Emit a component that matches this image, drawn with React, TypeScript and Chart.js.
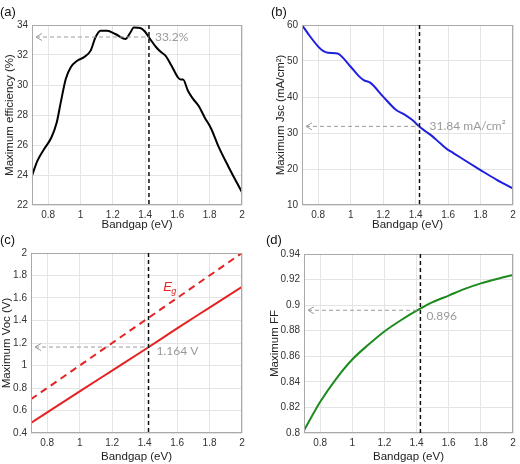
import React, { useEffect, useRef } from "react";
import { Chart, registerables } from "chart.js";

Chart.register(...registerables);

// ---------- data ----------
const BANDGAP_TICKS = [0.8, 1, 1.2, 1.4, 1.6, 1.8, 2];
const MARKED_GAP = 1.424;

const EFF_X = [0.70, 0.734, 0.775, 0.82, 0.853, 0.878, 0.909, 0.94, 0.98, 1.02, 1.063, 1.093, 1.124, 1.165, 1.216, 1.278, 1.309, 1.33, 1.37, 1.40, 1.429, 1.47, 1.50, 1.526, 1.563, 1.604, 1.62, 1.635, 1.666, 1.697, 1.732, 1.769, 1.81, 1.852, 1.913, 2.00];
const EFF_Y = [23.96, 24.96, 25.73, 26.5, 27.5, 28.84, 30.4, 31.18, 31.62, 31.84, 32.29, 33.18, 33.62, 33.62, 33.4, 33.07, 33.5, 33.84, 33.8, 33.55, 33.1, 32.5, 32.18, 31.96, 31.3, 30.5, 30.36, 30.36, 29.6, 29.07, 28.6, 27.84, 27.07, 25.96, 24.62, 22.84];
const EFF_TICKS = [22, 24, 26, 28, 30, 32, 34];
const EFF_MARK = 33.2;

const JSC_X = [0.70, 0.75, 0.80, 0.83, 0.86, 0.92, 0.95, 1.00, 1.05, 1.08, 1.12, 1.20, 1.28, 1.33, 1.38, 1.42, 1.46, 1.50, 1.55, 1.60, 1.63, 1.70, 1.80, 1.90, 2.00];
const JSC_Y = [60.0, 56.8, 54.0, 52.8, 52.3, 52.1, 51.0, 48.4, 45.8, 44.7, 44.0, 40.1, 36.4, 35.2, 33.6, 31.9, 30.5, 29.2, 27.2, 25.3, 24.5, 22.5, 19.7, 17.0, 14.6];
const JSC_TICKS = [10, 20, 30, 40, 50, 60];
const JSC_MARK = 31.84;

const VOC_X = [0.7, 1.0, 1.2, 1.4, 1.6, 1.8, 2.0];
const VOC_Y = [0.49, 0.77, 0.955, 1.14, 1.33, 1.515, 1.70];
const EG_Y = [0.7, 1.0, 1.2, 1.4, 1.6, 1.8, 2.0];
const VOC_TICKS = [0.4, 0.6, 0.8, 1, 1.2, 1.4, 1.6, 1.8, 2];
const VOC_MARK = 1.164;

const FF_X = [0.7, 0.8, 0.9, 1.0, 1.1, 1.2, 1.3, 1.42, 1.5, 1.6, 1.7, 1.8, 1.9, 2.0];
const FF_Y = [0.802, 0.8242, 0.8424, 0.8575, 0.869, 0.8794, 0.888, 0.897, 0.9023, 0.9075, 0.9127, 0.917, 0.9205, 0.9236];
const FF_TICKS = [0.8, 0.82, 0.84, 0.86, 0.88, 0.9, 0.92, 0.94];
const FF_MARK = 0.896;

// ---------- panels ----------
type Series = { xs: number[]; ys: number[]; color: string; dash?: number[] };
type Panel = {
  left: number; top: number;
  series: Series[];
  yTicks: number[];
  yTitle: string;
  mark: number; markText: string; textDx: number; textDy: number;
  pad: { left: number; right: number; top: number };
  yW: number; xH: number;
  eg?: boolean;
};

const PANELS: Panel[] = [
  {
    left: 0, top: 0,
    series: [{ xs: EFF_X, ys: EFF_Y, color: "#000000" }],
    yTicks: EFF_TICKS, yTitle: "Maximum efficiency (%)",
    mark: EFF_MARK, markText: "33.2%", textDx: 6, textDy: 0,
    pad: { left: 3, right: 18, top: 25 }, yW: 29, xH: 27,
  },
  {
    left: 260, top: 0,
    series: [{ xs: JSC_X, ys: JSC_Y, color: "#1f1fe0" }],
    yTicks: JSC_TICKS, yTitle: "Maximum Jsc (mA/cm\u00B2)",
    mark: JSC_MARK, markText: "31.84 mA/cm\u00B2", textDx: 10, textDy: 0,
    pad: { left: 14, right: 7, top: 25 }, yW: 28, xH: 27,
  },
  {
    left: 0, top: 232,
    series: [
      { xs: VOC_X, ys: EG_Y, color: "#e52222", dash: [7, 5] },
      { xs: VOC_X, ys: VOC_Y, color: "#e52222" },
    ],
    yTicks: VOC_TICKS, yTitle: "Maximum Voc (V)",
    mark: VOC_MARK, markText: "1.164 V", textDx: 8, textDy: 4,
    pad: { left: 0, right: 18, top: 21 }, yW: 31, xH: 31, eg: true,
  },
  {
    left: 260, top: 232,
    series: [{ xs: FF_X, ys: FF_Y, color: "#1d8a1d" }],
    yTicks: FF_TICKS, yTitle: "Maximum FF",
    mark: FF_MARK, markText: "0.896", textDx: 6, textDy: 6,
    pad: { left: 8, right: 7, top: 22 }, yW: 36, xH: 31,
  },
];

const LABELS = [
  { text: "(a)", left: 0, top: 4 },
  { text: "(b)", left: 271, top: 4 },
  { text: "(c)", left: 0, top: 232 },
  { text: "(d)", left: 266, top: 232 },
];

const FONT = "'Liberation Sans', Arial, sans-serif";

function makePlugin(p: Panel) {
  return {
    id: "marks",
    afterDatasetsDraw(chart: any) {
      const { ctx, chartArea: a, scales } = chart;
      const x = scales.x, y = scales.y;
      ctx.save();
      // box
      ctx.setLineDash([]);
      ctx.strokeStyle = "#a9a9a9";
      ctx.lineWidth = 1;
      ctx.strokeRect(a.left + 0.5, a.top + 0.5, a.right - a.left - 1, a.bottom - a.top - 1);
      const xp = x.getPixelForValue(MARKED_GAP);
      const yp = y.getPixelForValue(p.mark);
      // horizontal arrow
      ctx.strokeStyle = "#9c9c9c";
      ctx.lineWidth = 1;
      ctx.setLineDash([4, 3]);
      ctx.beginPath();
      ctx.moveTo(a.left + 4, yp);
      ctx.lineTo(xp, yp);
      ctx.stroke();
      ctx.setLineDash([]);
      ctx.beginPath();
      ctx.moveTo(a.left + 10, yp - 3.5);
      ctx.lineTo(a.left + 4, yp);
      ctx.lineTo(a.left + 10, yp + 3.5);
      ctx.stroke();
      // vertical line
      ctx.strokeStyle = "#111111";
      ctx.lineWidth = 1.5;
      ctx.setLineDash([4, 3]);
      ctx.beginPath();
      ctx.moveTo(xp, a.top);
      ctx.lineTo(xp, a.bottom);
      ctx.stroke();
      ctx.setLineDash([]);
      // text
      ctx.fillStyle = "#9a9a9a";
      ctx.font = "12px Lato, 'Open Sans', sans-serif";
      ctx.textAlign = "left";
      ctx.textBaseline = "middle";
      ctx.fillText(p.markText, xp + p.textDx, yp + p.textDy);
      if (p.eg) {
        const ex = x.getPixelForValue(1.515);
        const ey = y.getPixelForValue(1.69);
        ctx.fillStyle = "#e52222";
        ctx.font = "italic 13px " + FONT;
        ctx.fillText("E", ex, ey);
        ctx.font = "italic 9px " + FONT;
        ctx.fillText("g", ex + 8, ey + 4);
      }
      ctx.restore();
    },
  };
}

function PanelChart({ p }: { p: Panel }) {
  const ref = useRef<HTMLCanvasElement>(null);
  useEffect(() => {
    const tickFont = { family: FONT, size: 10 };
    const titleFont = { family: FONT, size: 11.5 };
    const chart = new Chart(ref.current!, {
      type: "scatter",
      data: {
        datasets: p.series.map((s) => ({
          data: s.xs.map((v, i) => ({ x: v, y: s.ys[i] })),
          showLine: true,
          borderColor: s.color,
          backgroundColor: s.color,
          borderWidth: 2,
          borderDash: s.dash || [],
          pointRadius: 0,
          cubicInterpolationMode: "monotone",
        })),
      } as any,
      options: {
        animation: false,
        responsive: false,
        devicePixelRatio: 1,
        layout: { padding: { left: p.pad.left, right: p.pad.right, top: p.pad.top, bottom: 0 } },
        plugins: { legend: { display: false }, tooltip: { enabled: false } },
        scales: {
          x: {
            type: "linear",
            min: 0.7,
            max: 2,
            afterBuildTicks: (s: any) => { s.ticks = BANDGAP_TICKS.map((v) => ({ value: v })); },
            afterFit: (s: any) => { s.height = p.xH; },
            grid: { color: "#e4e4e4", drawTicks: false },
            border: { display: false },
            ticks: { font: tickFont, color: "#333333", padding: 4, maxRotation: 0, autoSkip: false, callback: (v: any) => String(v) },
            title: { display: true, text: "Bandgap (eV)", font: titleFont, color: "#222222", padding: { top: 0, bottom: 0 } },
          },
          y: {
            type: "linear",
            min: p.yTicks[0],
            max: p.yTicks[p.yTicks.length - 1],
            afterBuildTicks: (s: any) => { s.ticks = p.yTicks.map((v) => ({ value: v })); },
            afterFit: (s: any) => { s.width = p.yW; },
            grid: { color: "#e4e4e4", drawTicks: false },
            border: { display: false },
            ticks: { font: tickFont, color: "#333333", padding: 4, autoSkip: false, callback: (v: any) => String(v) },
            title: { display: true, text: p.yTitle, font: titleFont, color: "#222222", padding: { top: 0, bottom: 0 } },
          },
        },
      } as any,
      plugins: [makePlugin(p)],
    });
    return () => chart.destroy();
  }, [p]);
  return (
    <div style={{ position: "absolute", left: p.left, top: p.top, width: 260, height: 232 }}>
      <canvas ref={ref} width={260} height={232} style={{ display: "block" }} />
    </div>
  );
}

export default function App() {
  return (
    <div style={{ position: "absolute", left: 0, top: 0, width: 520, height: 464, background: "#ffffff" }}>
      {PANELS.map((p, i) => (
        <PanelChart key={i} p={p} />
      ))}
      {LABELS.map((l, i) => (
        <div key={"l" + i} style={{ position: "absolute", left: l.left, top: l.top, fontFamily: FONT, fontSize: 13, lineHeight: "16px", color: "#111" }}>
          {l.text}
        </div>
      ))}
    </div>
  );
}
